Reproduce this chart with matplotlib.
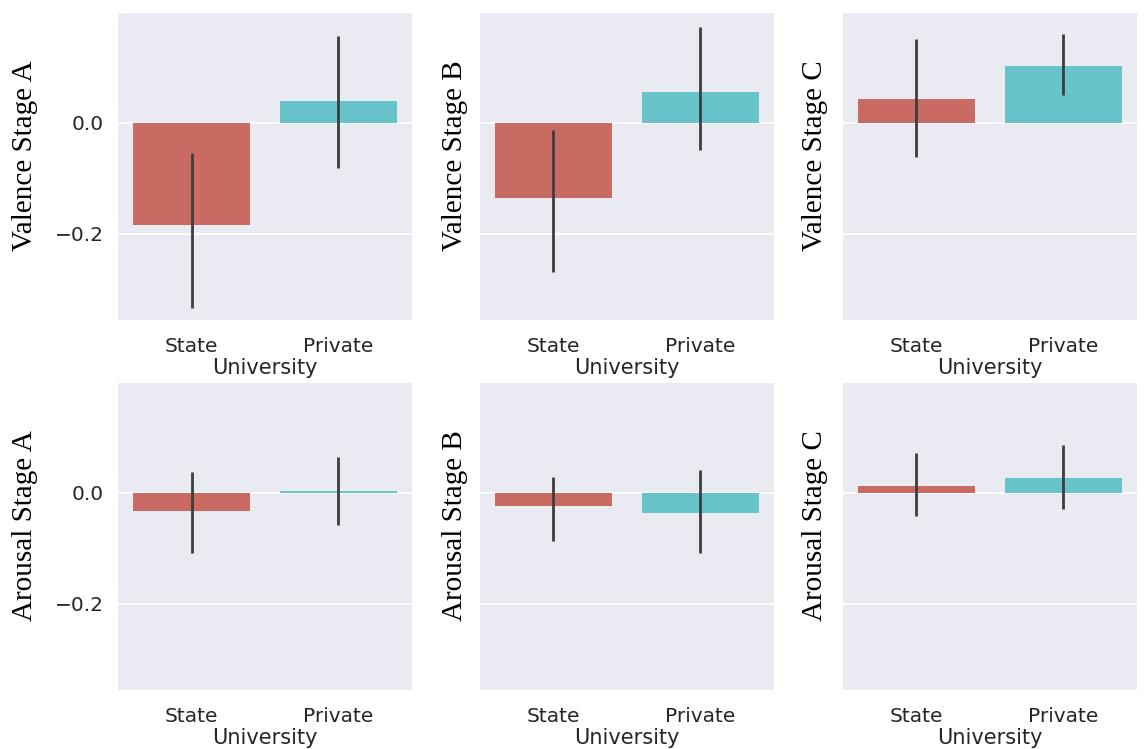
import matplotlib
matplotlib.use("Agg")
import matplotlib.pyplot as plt
import numpy as np

categories = ["State", "Private"]
panel_labels = ["Valence Stage A", "Valence Stage B", "Valence Stage C",
                "Arousal Stage A", "Arousal Stage B", "Arousal Stage C"]

# mean values per panel (State, Private)
valence_a = [-0.184, 0.040]
valence_b = [-0.135, 0.056]
valence_c = [0.043, 0.103]
arousal_a = [-0.033, 0.003]
arousal_b = [-0.024, -0.036]
arousal_c = [0.012, 0.027]

# CI lower / upper per panel (State, Private)
valence_a_lo = [-0.333, -0.081]
valence_a_hi = [-0.054, 0.157]
valence_b_lo = [-0.268, -0.049]
valence_b_hi = [-0.013, 0.173]
valence_c_lo = [-0.061, 0.050]
valence_c_hi = [0.151, 0.160]
arousal_a_lo = [-0.109, -0.058]
arousal_a_hi = [0.038, 0.065]
arousal_b_lo = [-0.087, -0.109]
arousal_b_hi = [0.029, 0.042]
arousal_c_lo = [-0.042, -0.029]
arousal_c_hi = [0.071, 0.087]

means = [valence_a, valence_b, valence_c, arousal_a, arousal_b, arousal_c]
los = [valence_a_lo, valence_b_lo, valence_c_lo, arousal_a_lo, arousal_b_lo, arousal_c_lo]
his = [valence_a_hi, valence_b_hi, valence_c_hi, arousal_a_hi, arousal_b_hi, arousal_c_hi]

colors = ["#c96a63", "#66c4ca"]
bg = "#eaeaf2"

fig = plt.figure(figsize=(11.46, 7.49), dpi=100)
lefts = [0.103, 0.4188, 0.7356]
bottoms = [0.5728, 0.0788]
w, h = 0.2565, 0.41
label_x = [-0.316, -0.085, -0.094]

for i in range(6):
    r, c = divmod(i, 3)
    ax = fig.add_axes([lefts[c], bottoms[r], w, h])
    ax.set_facecolor(bg)
    for s in ax.spines.values():
        s.set_visible(False)
    ax.set_axisbelow(True)
    ax.yaxis.grid(True, color="white", lw=1.3)
    ax.xaxis.grid(False)
    x = np.arange(len(categories))
    ax.bar(x, means[i], width=0.8, color=colors, linewidth=0)
    for xi, lo, hi in zip(x, los[i], his[i]):
        ax.plot([xi, xi], [lo, hi], color="#3d3d3d", lw=2.0, solid_capstyle="butt")
    ax.set_xlim(-0.5, 1.5)
    ax.set_ylim(-0.355, 0.198)
    ax.set_yticks([-0.2, 0.0])
    ax.set_xticks(x)
    ax.set_xticklabels(categories, fontsize=14.5, color="#262626")
    ax.tick_params(axis="x", length=0, pad=12)
    ax.tick_params(axis="y", length=0, pad=10)
    if c == 0:
        ax.set_yticklabels(["\u22120.2", "0.0"], fontsize=14.5, color="#262626")
    else:
        ax.set_yticklabels([])
    ax.set_xlabel("University", fontsize=15, color="#262626", labelpad=2)
    ax.set_ylabel(panel_labels[i], fontsize=21, family="Liberation Serif",
                  color="black", rotation=90, ha="center", va="center")
    ax.yaxis.set_label_coords(label_x[c], 0.535)

fig.savefig("out.png", dpi=100, facecolor="white")
